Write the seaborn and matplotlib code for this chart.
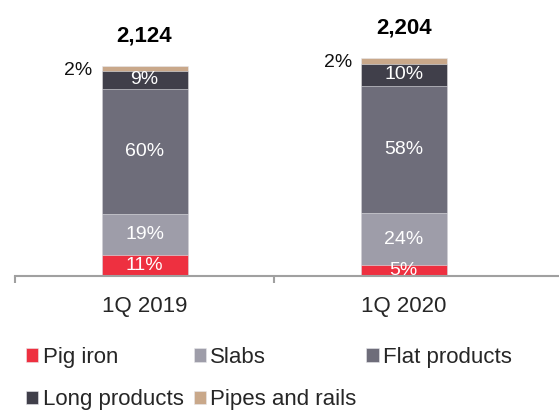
import pandas as pd
import seaborn as sns
import matplotlib.pyplot as plt

# ── Data (kt) ────────────────────────────────────────────────────────────────
periods = ["1Q 2019", "1Q 2020"]
products = ["Pig iron", "Slabs", "Flat products", "Long products", "Pipes and rails"]
pig_iron = [212, 111]
slabs = [415, 526]
flat_products = [1264, 1284]
long_products = [182, 222]
pipes_rails = [51, 61]
total_labels = ["2,124", "2,204"]
pig_iron_pct = ["11%", "5%"]
slabs_pct = ["19%", "24%"]
flat_pct = ["60%", "58%"]
long_pct = ["9%", "10%"]
pipes_pct = ["2%", "2%"]

colors = ["#EE3040", "#9E9DA9", "#6E6D7A", "#403F4A", "#C9A88A"]

# ── Build frame ──────────────────────────────────────────────────────────────
layers = [pig_iron, slabs, flat_products, long_products, pipes_rails]
pcts = [pig_iron_pct, slabs_pct, flat_pct, long_pct, pipes_pct]
rows = []
for name, vals in zip(products, layers):
    for p, v in zip(periods, vals):
        rows.append({"period": p, "product": name, "value": v})
df = pd.DataFrame(rows)
wide = df.pivot(index="period", columns="product", values="value")[products].loc[periods]
cum = wide.cumsum(axis=1)
base = cum.shift(1, axis=1).fillna(0)

sns.set_style("white")
plt.rcParams["font.family"] = ["Liberation Sans", "DejaVu Sans"]

fig = plt.figure(figsize=(5.59, 4.12), dpi=100)
ax = fig.add_axes([15 / 559, 136 / 412, 544 / 559, 276 / 412])

# draw from the top layer down so lower segments cover the cumulative bars
for i in range(len(products) - 1, -1, -1):
    name = products[i]
    sns.barplot(
        x=periods, y=cum[name].values, color=colors[i], saturation=1,
        width=0.332, ax=ax, label=name, edgecolor="#E8E8EC", linewidth=0.4,
    )

# ── Labels ───────────────────────────────────────────────────────────────────
for j, p in enumerate(periods):
    for i, name in enumerate(products):
        lo, hi = base.loc[p, name], cum.loc[p, name]
        if name == "Pipes and rails":
            ax.text(j - 0.2, hi - 50, pcts[i][j], ha="right", va="center",
                    fontsize=14, color="#111111")
        else:
            ax.text(j, (lo + hi) / 2, pcts[i][j], ha="center", va="center",
                    fontsize=14, color="white", clip_on=True)
    ax.text(j, cum.loc[p].iloc[-1] + 300, total_labels[j], ha="center",
            va="center", fontsize=16, fontweight="bold", color="black")

ax.set_xlim(-0.5, 1.6)
ax.set_ylim(0, 2790)
ax.set_xlabel("")
ax.set_ylabel("")
ax.set_yticks([])
for s in ["top", "right", "left"]:
    ax.spines[s].set_visible(False)
ax.spines["bottom"].set_color("#A0A0A0")
ax.spines["bottom"].set_linewidth(1.5)
ax.set_xticks([0, 1])
ax.set_xticklabels(periods, fontsize=16)
ax.set_xticks([-0.5, 0.5], minor=True)
ax.tick_params(axis="x", which="major", length=0, pad=14.5)
ax.tick_params(axis="x", which="minor", length=5, width=1.5, color="#A0A0A0",
               direction="out", bottom=True)

# ── Legend ───────────────────────────────────────────────────────────────────
handles, labels = ax.get_legend_handles_labels()
lookup = dict(zip(labels, handles))
order = ["Pig iron", "Long products", "Slabs", "Pipes and rails", "Flat products"]
if ax.get_legend():
    ax.get_legend().remove()
fig.legend([lookup[o] for o in order], order, loc="upper left",
           bbox_to_anchor=(26 / 559, (412 - 347) / 412), ncol=3, frameon=False,
           fontsize=16, handlelength=0.55, handleheight=0.55, handletextpad=0.2,
           columnspacing=0.45, labelspacing=0.95, borderpad=0, borderaxespad=0)

plt.savefig("out.png", dpi=100)
